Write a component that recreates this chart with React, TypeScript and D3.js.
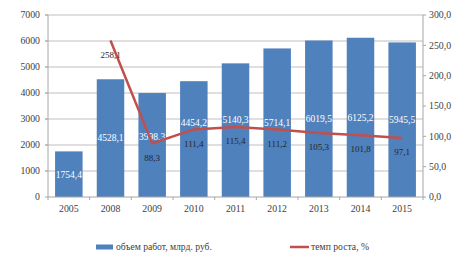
import React from "react";
import * as d3 from "d3";

const years = ["2005", "2008", "2009", "2010", "2011", "2012", "2013", "2014", "2015"];
const volume = [1754.4, 4528.1, 3998.3, 4454.2, 5140.3, 5714.1, 6019.5, 6125.2, 5945.5];
const volumeLabels = ["1754,4", "4528,1", "3998,3", "4454,2", "5140,3", "5714,1", "6019,5", "6125,2", "5945,5"];
const growthYears = ["2008", "2009", "2010", "2011", "2012", "2013", "2014", "2015"];
const growth = [258.1, 88.3, 111.4, 115.4, 111.2, 105.3, 101.8, 97.1];
const growthLabels = ["258,1", "88,3", "111,4", "115,4", "111,2", "105,3", "101,8", "97,1"];
const leftTicks = [0, 1000, 2000, 3000, 4000, 5000, 6000, 7000];
const rightTicks = [0, 50, 100, 150, 200, 250, 300];
const legendBar = "объем работ, млрд. руб.";
const legendLine = "темп роста, %";

const W = 461, H = 278;
const L = 48, R = 423, T = 15, B = 197;
const BAR = "#4f81bd", LINE = "#c0504d", GRID = "#bfbfbf", AXIS = "#a6a6a6";
const FONT = "'Liberation Serif', 'Times New Roman', serif";
const LINE_LABEL_OFFSET = 14;

export default function App() {
  const x = d3.scaleBand<string>().domain(years).range([L, R]).paddingInner(0.34).paddingOuter(0.17);
  const xb = d3.scaleBand<string>().domain(years).range([L, R]);
  const yL = d3.scaleLinear().domain([0, 7000]).range([B, T]);
  const yR = d3.scaleLinear().domain([0, 300]).range([B, T]);
  const cx = (yr: string) => (x(yr) as number) + x.bandwidth() / 2;
  const line = d3.line<number>()
    .x((_, i) => cx(growthYears[i]))
    .y((d) => yR(d));

  const barLabelY = (yr: string, i: number) => {
    const center = yL(volume[i] / 2);
    const gi = growthYears.indexOf(yr);
    if (gi < 0) return center;
    const py = yR(growth[gi]);
    const ly = py + LINE_LABEL_OFFSET;
    if (Math.abs(center - ly) < 13) return py - 7;
    return center;
  };

  return (
    <svg width={W} height={H} style={{ position: "absolute", left: 0, top: 0, background: "#fff" }} fontFamily={FONT}>
      {leftTicks.map((t) => (
        <g key={"g" + t}>
          {t > 0 && <line x1={L - 3} x2={R} y1={yL(t)} y2={yL(t)} stroke={GRID} strokeWidth={1} />}
          <line x1={L - 3} x2={L} y1={yL(t)} y2={yL(t)} stroke={AXIS} />
          <text x={L - 8} y={yL(t)} dy="0.35em" textAnchor="end" fontSize={9.8} fill="#404040">{t}</text>
        </g>
      ))}
      {rightTicks.map((t) => (
        <g key={"r" + t}>
          <line x1={R} x2={R + 3} y1={yR(t)} y2={yR(t)} stroke={AXIS} />
          <text x={R + 6} y={yR(t)} dy="0.35em" textAnchor="start" fontSize={9.8} fill="#404040">
            {t.toFixed(1).replace(".", ",")}
          </text>
        </g>
      ))}
      {years.map((yr, i) => (
        <rect key={"b" + yr} x={x(yr)} y={yL(volume[i])} width={x.bandwidth()} height={B - yL(volume[i])} fill={BAR} />
      ))}
      <line x1={L} x2={L} y1={T} y2={B} stroke={AXIS} />
      <line x1={R} x2={R} y1={T} y2={B} stroke={AXIS} />
      <line x1={L} x2={R} y1={B} y2={B} stroke={AXIS} />
      {years.map((yr) => (
        <line key={"xt" + yr} x1={(xb(yr) as number) + xb.bandwidth()} x2={(xb(yr) as number) + xb.bandwidth()} y1={B} y2={B + 3} stroke={AXIS} />
      ))}
      <line x1={L} x2={L} y1={B} y2={B + 3} stroke={AXIS} />
      {years.map((yr) => (
        <text key={"xl" + yr} x={cx(yr)} y={B + 12} dy="0.35em" textAnchor="middle" fontSize={9.8} fill="#404040">{yr}</text>
      ))}
      {years.map((yr, i) => (
        <text key={"vl" + yr} x={cx(yr)} y={barLabelY(yr, i)} dy="0.35em" textAnchor="middle" fontSize={9.5} fill="#fff">{volumeLabels[i]}</text>
      ))}
      <path d={line(growth) || ""} fill="none" stroke={LINE} strokeWidth={2.5} />
      {growthYears.map((yr, i) => (
        <text key={"gl" + yr} x={cx(yr)} y={yR(growth[i]) + LINE_LABEL_OFFSET} dy="0.35em" textAnchor="middle" fontSize={9} fill="#262626">{growthLabels[i]}</text>
      ))}
      <rect x={96} y={244.5} width={17} height={5} fill={BAR} />
      <text x={116} y={247} dy="0.35em" fontSize={9.6} fill="#404040">{legendBar}</text>
      <line x1={290} x2={309} y1={247} y2={247} stroke={LINE} strokeWidth={2.5} />
      <text x={311} y={247} dy="0.35em" fontSize={9.7} fill="#404040">{legendLine}</text>
    </svg>
  );
}
